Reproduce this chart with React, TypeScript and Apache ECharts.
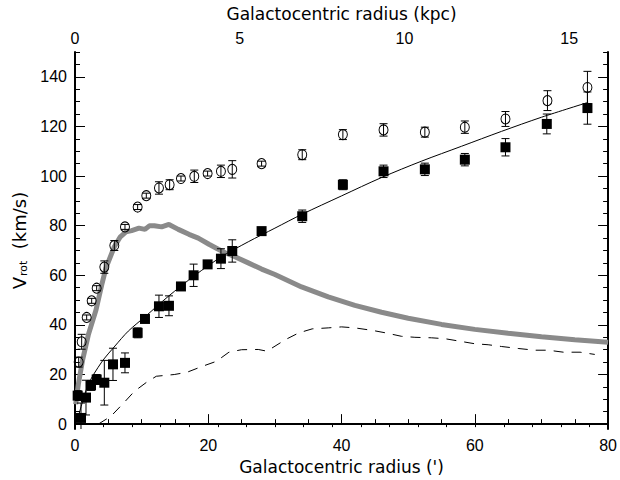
import React, { useEffect, useRef } from 'react';
import * as echarts from 'echarts';

// Open circles (arcmin, km/s, error)
const circX = [0.55, 1.0, 1.75, 2.5, 3.25, 4.4, 5.9, 7.5, 9.4, 10.7, 12.6, 14.2, 15.9, 17.9, 19.9, 21.9, 23.6, 28.0, 34.1, 40.2, 46.3, 52.5, 58.5, 64.6, 70.9, 76.9];
const circY = [25.0, 33.2, 43.0, 49.7, 54.8, 63.3, 72.0, 79.5, 87.5, 92.1, 95.2, 96.5, 99.0, 99.9, 101.0, 101.9, 102.7, 105.0, 108.6, 116.7, 118.6, 117.7, 119.7, 123.0, 130.4, 135.7];
const circErr = [2, 3, 1, 1, 1, 2.5, 2, 1, 1, 1, 2.5, 2, 1, 2.5, 1, 2.5, 3.5, 1, 2, 2, 2.5, 2, 2.5, 3, 4, 6.5];

// Filled squares
const sqX = [0.4, 0.9, 1.65, 2.4, 3.25, 4.4, 5.7, 7.5, 9.4, 10.5, 12.6, 14.1, 15.9, 17.8, 19.9, 21.9, 23.6, 28.0, 34.1, 40.2, 46.3, 52.5, 58.5, 64.6, 70.8, 76.9];
const sqY = [11.5, 2.5, 10.7, 15.6, 18.0, 16.7, 24.1, 24.7, 36.8, 42.4, 47.5, 47.7, 55.5, 60.0, 64.4, 66.7, 69.8, 77.8, 83.8, 96.5, 101.9, 102.7, 106.6, 111.6, 121.0, 127.4];
const sqErr = [2, 6, 7, 2, 2, 9, 6.5, 4, 2, 1, 4.5, 4, 1.5, 4.5, 1.5, 4, 4.5, 1.5, 2.5, 2, 2.5, 2.5, 2.5, 3.5, 4, 6.5];

// Thin fitted curve
const fitX = [0.5, 2, 4, 6, 8, 10.6, 14, 18, 22, 26, 30, 34, 40, 46, 52, 58, 64, 70, 77];
const fitY = [3, 16, 25, 31.5, 37.5, 43.5, 51.5, 60, 67.5, 73.5, 79, 84.5, 92, 99.4, 106, 112, 118, 123.7, 129.7];

// Thick grey curve
const greyX = [0.1, 0.5, 1.15, 2, 3.15, 4, 4.65, 5.9, 6.8, 7.65, 8.5, 9.6, 10.5, 11.2, 11.9, 13, 14.1, 15.5, 17.1, 18.5, 20.1, 21.5, 22.6, 24, 26, 28, 30, 34, 38, 42, 46, 50, 55, 60, 65, 70, 75, 80];
const greyY = [8, 16, 26, 36, 46, 56, 63, 71.5, 75.5, 77.5, 78, 79, 78.5, 80, 80, 79.5, 80.5, 78.5, 76.5, 75, 72.5, 70.5, 69, 67.5, 65, 62.5, 60.3, 55.3, 51.3, 47.9, 45.1, 42.7, 40.2, 38.2, 36.6, 35.2, 34, 33];

// Dashed curve
const dashX = [3.5, 5.4, 7.4, 8.9, 10.7, 12.2, 14.9, 16.8, 19.1, 21.2, 23.1, 25, 27.5, 28.8, 31.6, 33.6, 35.6, 38, 40, 42, 44.6, 46.6, 49, 51, 53.5, 55.6, 57.8, 60, 62, 64, 66.5, 69, 71, 73.3, 75.8, 78];
const dashY = [0, 3.2, 8.8, 13.2, 16.8, 19.3, 20, 20.9, 23.3, 25.3, 29, 30, 30.1, 29.4, 34.1, 36.8, 38.4, 38.8, 39.2, 38.8, 37.8, 36.8, 35.4, 35, 34.8, 34.4, 33.4, 32.4, 32, 31.3, 30.5, 29.8, 29.8, 29, 29, 28.1];

// Ticks
const yMajor = [0, 20, 40, 60, 80, 100, 120, 140];
const yMinor = [0, 5, 10, 15, 20, 25, 30, 35, 40, 45, 50, 55, 60, 65, 70, 75, 80, 85, 90, 95, 100, 105, 110, 115, 120, 125, 130, 135, 140, 145, 150];
const topLabels = [0, 5, 10, 15];
const topTicks = [0.87, 1.74, 2.6, 3.47, 4.34, 5.21, 6.08, 6.94, 7.81, 8.68, 9.55, 10.42, 11.28, 12.15, 13.02, 13.89, 14.76, 15.62];

const zip = (a: number[], b: number[]) => a.map((v, i) => [v, b[i]]);
const zip3 = (a: number[], b: number[], c: number[]) => a.map((v, i) => [v, b[i], c[i]]);

const errRender = (params: any, api: any) => {
  const x = api.value(0), y = api.value(1), e = api.value(2);
  const t = api.coord([x, y + e]);
  const b = api.coord([x, y - e]);
  const w = 4;
  const st = { stroke: '#000', lineWidth: 1 };
  return {
    type: 'group',
    children: [
      { type: 'line', shape: { x1: t[0], y1: t[1], x2: b[0], y2: b[1] }, style: st },
      { type: 'line', shape: { x1: t[0] - w, y1: t[1], x2: t[0] + w, y2: t[1] }, style: st },
      { type: 'line', shape: { x1: b[0] - w, y1: b[1], x2: b[0] + w, y2: b[1] }, style: st },
    ],
  };
};

const TF = 'Liberation Sans';
const NF = 'DejaVu Sans';

export default function App() {
  const ref = useRef<HTMLDivElement>(null);
  useEffect(() => {
    const chart = echarts.init(ref.current!, null, { renderer: 'svg' });
    const line2 = { lineStyle: { color: '#000', width: 2 } };
    chart.setOption({
      animation: false,
      backgroundColor: '#fff',
      grid: { left: 75, right: 10, top: 50, bottom: 50 },
      xAxis: [
        {
          type: 'value', position: 'bottom', min: 0, max: 80, interval: 20,
          axisLine: { show: true, ...line2 },
          axisTick: { show: true, inside: true, length: 10, lineStyle: { color: '#000', width: 1 } },
          minorTick: { show: true, splitNumber: 4, length: 5, lineStyle: { color: '#000', width: 1 } },
          axisLabel: { color: '#000', fontSize: 16, fontFamily: TF, margin: 8 },
          splitLine: { show: false },
          name: "Galactocentric radius (')", nameLocation: 'middle', nameGap: 28,
          nameTextStyle: { color: '#000', fontSize: 17, fontFamily: NF },
        },
        {
          type: 'value', position: 'top', min: 0, max: 16.18,
          axisLine: { show: true, lineStyle: { color: '#000', width: 1 } },
          axisTick: { show: true, inside: true, length: 3, customValues: topTicks, lineStyle: { color: '#000', width: 1 } },
          axisLabel: { color: '#000', fontSize: 16, fontFamily: TF, margin: 6, customValues: topLabels },
          splitLine: { show: false },
          name: 'Galactocentric radius (kpc)', nameLocation: 'middle', nameGap: 30,
          nameTextStyle: { color: '#000', fontSize: 17, fontFamily: NF },
        },
      ],
      yAxis: [
        {
          type: 'value', position: 'left', min: -2, max: 150,
          axisLine: { show: true, ...line2 },
          axisTick: { show: true, inside: true, length: 10, customValues: yMajor, lineStyle: { color: '#000', width: 1 } },
          axisLabel: { color: '#000', fontSize: 16, fontFamily: TF, margin: 8, customValues: yMajor },
          splitLine: { show: false },
          name: '{v|V}{s|rot}{v|  (km/s)}', nameLocation: 'middle', nameGap: 44, nameRotate: 90,
          nameTextStyle: {
            color: '#000', fontFamily: NF,
            rich: {
              v: { fontSize: 18, fontFamily: NF, color: '#000' },
              s: { fontSize: 11, fontFamily: NF, color: '#000', verticalAlign: 'bottom', padding: [9, 0, 0, 1] },
            },
          },
        },
        {
          type: 'value', position: 'left', min: -2, max: 150,
          axisLine: { show: false },
          axisTick: { show: true, inside: true, length: 5, customValues: yMinor, lineStyle: { color: '#000', width: 1 } },
          axisLabel: { show: false },
          splitLine: { show: false },
        },
        {
          type: 'value', position: 'right', min: -2, max: 150,
          axisLine: { show: true, ...line2 },
          axisTick: { show: true, inside: true, length: 10, customValues: yMajor, lineStyle: { color: '#000', width: 1 } },
          axisLabel: { show: false },
          splitLine: { show: false },
        },
        {
          type: 'value', position: 'right', min: -2, max: 150,
          axisLine: { show: false },
          axisTick: { show: true, inside: true, length: 5, customValues: yMinor, lineStyle: { color: '#000', width: 1 } },
          axisLabel: { show: false },
          splitLine: { show: false },
        },
      ],
      series: [
        {
          type: 'line', data: zip(greyX, greyY), showSymbol: false, smooth: false,
          lineStyle: { color: '#8a8a8a', width: 5 }, z: 2, clip: true,
        },
        {
          type: 'line', data: zip(fitX, fitY), showSymbol: false, smooth: 0.3,
          lineStyle: { color: '#000', width: 1 }, z: 3,
        },
        {
          type: 'line', data: zip(dashX, dashY), showSymbol: false, smooth: false,
          lineStyle: { color: '#000', width: 1, type: [10, 8] }, z: 3,
        },
        { type: 'custom', data: zip3(circX, circY, circErr), renderItem: errRender, z: 4, clip: true },
        { type: 'custom', data: zip3(sqX, sqY, sqErr), renderItem: errRender, z: 4, clip: true },
        {
          type: 'scatter', data: zip(circX, circY), symbol: 'circle', symbolSize: [9, 10],
          itemStyle: { color: 'rgba(0,0,0,0)', borderColor: '#000', borderWidth: 1, opacity: 1 }, z: 5,
        },
        {
          type: 'scatter', data: zip(sqX, sqY), symbol: 'rect', symbolSize: 10,
          itemStyle: { color: '#000', opacity: 1 }, z: 5,
        },
      ],
    });
    return () => chart.dispose();
  }, []);
  return <div ref={ref} style={{ width: 620, height: 480, position: 'absolute', left: 0, top: 0 }} />;
}
